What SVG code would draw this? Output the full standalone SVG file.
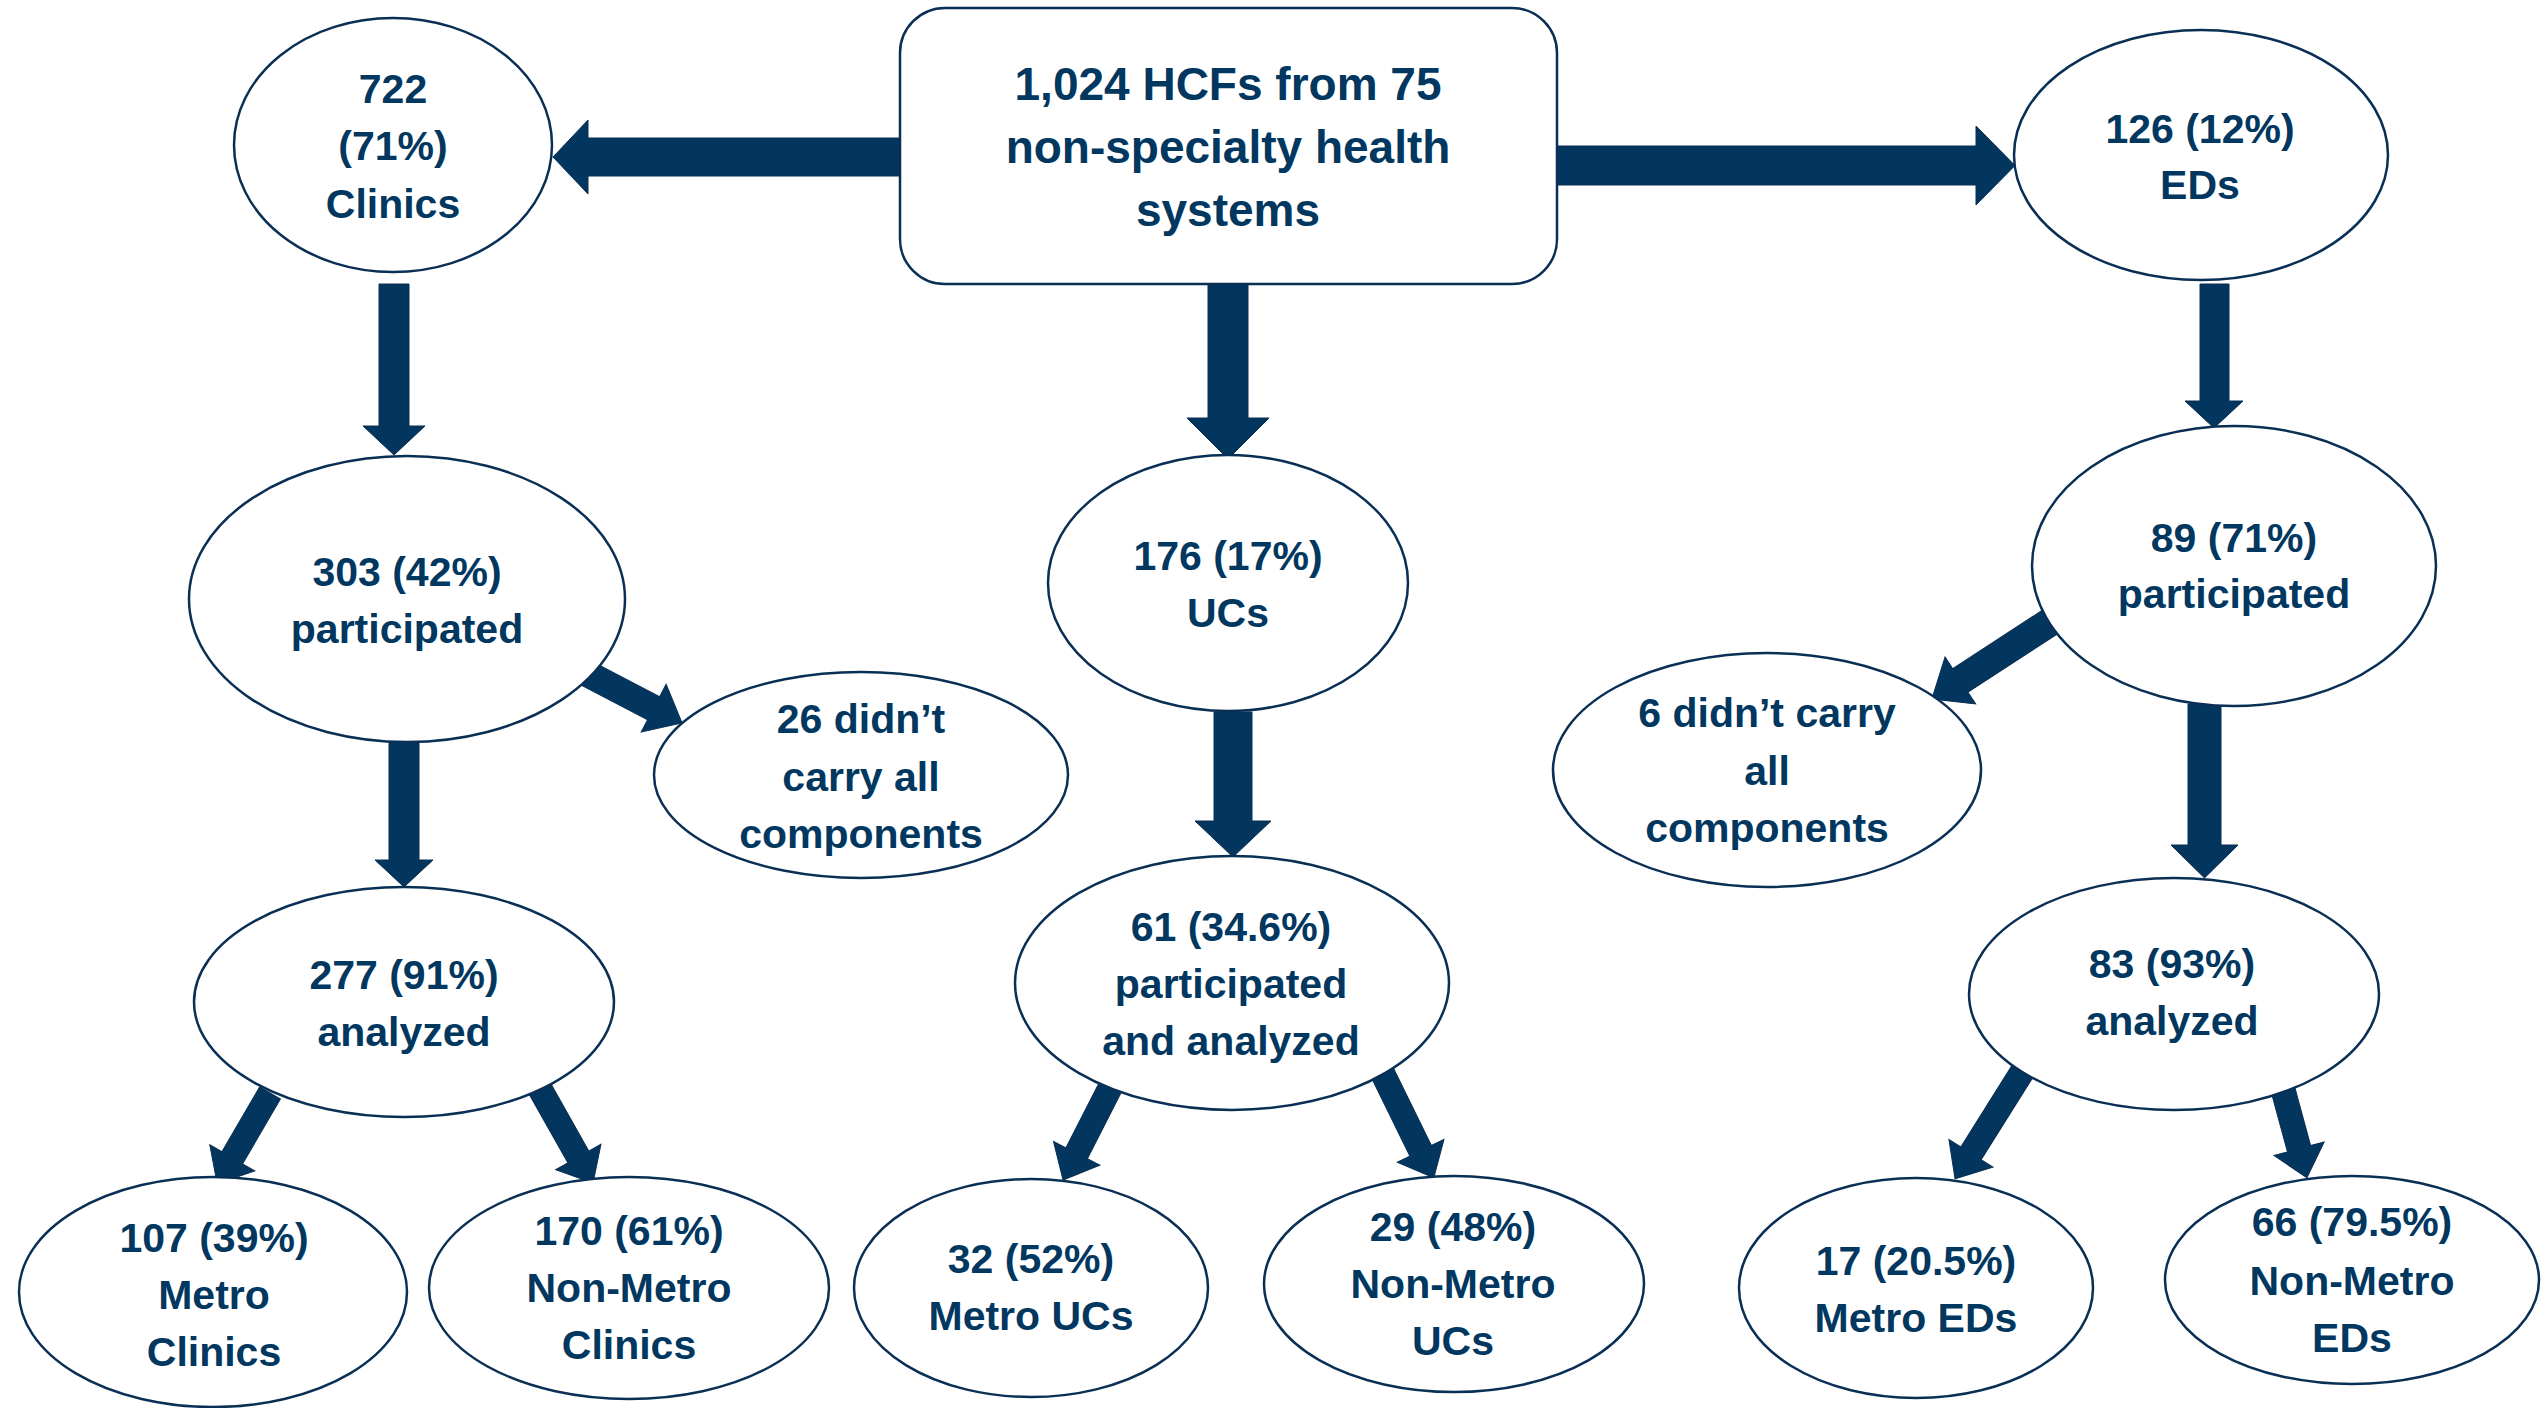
<svg xmlns="http://www.w3.org/2000/svg" width="2542" height="1408" viewBox="0 0 2542 1408">
<style>
.bg{fill:#ffffff}
.node{fill:#ffffff;stroke:#0a2f55;stroke-width:2.5}
.t{font-family:"Liberation Sans",Arial,sans-serif;font-weight:bold;font-size:41px;fill:#02375f;text-anchor:middle}
.tb{font-size:46px}
.arr{fill:#02365f;stroke:#0b2e50;stroke-width:1}
</style>
<rect class="bg" x="0" y="0" width="2542" height="1408"/>
<g id="connectors">
<polygon class="arr" points="900,138 588,138 588,120 553,157 588,194 588,176 900,176"/>
<polygon class="arr" points="1557,146 1976,146 1976,126 2015,165.5 1976,205 1976,185 1557,185"/>
<polygon class="arr" points="1208,283 1248,283 1248,418 1269,418 1228,459 1187,418 1208,418"/>
<polygon class="arr" points="379,284 409,284 409,426 425,426 394,455 363,426 379,426"/>
<polygon class="arr" points="2200,284 2229,284 2229,401 2243,401 2214,428 2185,401 2200,401"/>
<polygon class="arr" points="389,742 419,742 419,860 433,860 404,887 375,860 389,860"/>
<polygon class="arr" points="1214,712 1252,712 1252,821 1271,821 1233,857 1195,821 1214,821"/>
<polygon class="arr" points="2188,704 2221,704 2221,845 2238,845 2204.5,878 2171,845 2188,845"/>
<polygon class="arr" transform="translate(588,674) rotate(27.5)" points="0,-13 74,-13 74,-27 106,0 74,27 74,13 0,13"/>
<polygon class="arr" transform="translate(270,1093) rotate(120.2)" points="0,-12 75,-12 75,-26 105,0 75,26 75,12 0,12"/>
<polygon class="arr" transform="translate(540,1089) rotate(60.6)" points="0,-12 78,-12 78,-26 108,0 78,26 78,12 0,12"/>
<polygon class="arr" transform="translate(1113,1082) rotate(117)" points="0,-12 80,-12 80,-26 110,0 80,26 80,12 0,12"/>
<polygon class="arr" transform="translate(1381,1070) rotate(63.9)" points="0,-12 90,-12 90,-26 120,0 90,26 90,12 0,12"/>
<polygon class="arr" transform="translate(2050,622) rotate(146.9)" points="0,-14 107,-14 107,-28 141,0 107,28 107,14 0,14"/>
<polygon class="arr" transform="translate(2022,1072) rotate(122.1)" points="0,-12 96,-12 96,-26 126,0 96,26 96,12 0,12"/>
<polygon class="arr" transform="translate(2282,1086) rotate(74.8)" points="0,-12 65,-12 65,-26 95,0 65,26 65,12 0,12"/>
</g>
<g id="root">
<rect class="node" x="900" y="8" width="657" height="276" rx="45" ry="45"/>
<text class="t tb" x="1228" y="100">1,024 HCFs from 75</text>
<text class="t tb" x="1228" y="163">non-specialty health</text>
<text class="t tb" x="1228" y="226">systems</text>
</g>
<g id="clinics">
<ellipse class="node" cx="393" cy="145" rx="159" ry="127"/>
<text class="t" x="393" y="103">722</text>
<text class="t" x="393" y="160">(71%)</text>
<text class="t" x="393" y="218">Clinics</text>
</g>
<g id="eds">
<ellipse class="node" cx="2201" cy="155" rx="187" ry="125"/>
<text class="t" x="2200" y="143">126 (12%)</text>
<text class="t" x="2200" y="199">EDs</text>
</g>
<g id="clinics-participated">
<ellipse class="node" cx="407" cy="599" rx="218" ry="143"/>
<text class="t" x="407" y="586">303 (42%)</text>
<text class="t" x="407" y="643">participated</text>
</g>
<g id="clinics-excluded">
<ellipse class="node" cx="861" cy="775" rx="207" ry="103"/>
<text class="t" x="861" y="733">26 didn’t</text>
<text class="t" x="861" y="791">carry all</text>
<text class="t" x="861" y="848">components</text>
</g>
<g id="ucs">
<ellipse class="node" cx="1228" cy="583" rx="180" ry="128"/>
<text class="t" x="1228" y="570">176 (17%)</text>
<text class="t" x="1228" y="627">UCs</text>
</g>
<g id="eds-participated">
<ellipse class="node" cx="2234" cy="566" rx="202" ry="140"/>
<text class="t" x="2234" y="552">89 (71%)</text>
<text class="t" x="2234" y="608">participated</text>
</g>
<g id="eds-excluded">
<ellipse class="node" cx="1767" cy="770" rx="214" ry="117"/>
<text class="t" x="1767" y="727">6 didn’t carry</text>
<text class="t" x="1767" y="785">all</text>
<text class="t" x="1767" y="842">components</text>
</g>
<g id="clinics-analyzed">
<ellipse class="node" cx="404" cy="1002" rx="210" ry="115"/>
<text class="t" x="404" y="989">277 (91%)</text>
<text class="t" x="404" y="1046">analyzed</text>
</g>
<g id="ucs-analyzed">
<ellipse class="node" cx="1232" cy="983" rx="217" ry="127"/>
<text class="t" x="1231" y="941">61 (34.6%)</text>
<text class="t" x="1231" y="998">participated</text>
<text class="t" x="1231" y="1055">and analyzed</text>
</g>
<g id="eds-analyzed">
<ellipse class="node" cx="2174" cy="994" rx="205" ry="116"/>
<text class="t" x="2172" y="978">83 (93%)</text>
<text class="t" x="2172" y="1035">analyzed</text>
</g>
<g id="metro-clinics">
<ellipse class="node" cx="213" cy="1292" rx="194" ry="115"/>
<text class="t" x="214" y="1252">107 (39%)</text>
<text class="t" x="214" y="1309">Metro</text>
<text class="t" x="214" y="1366">Clinics</text>
</g>
<g id="nonmetro-clinics">
<ellipse class="node" cx="629" cy="1288" rx="200" ry="111"/>
<text class="t" x="629" y="1245">170 (61%)</text>
<text class="t" x="629" y="1302">Non-Metro</text>
<text class="t" x="629" y="1359">Clinics</text>
</g>
<g id="metro-ucs">
<ellipse class="node" cx="1031" cy="1288" rx="177" ry="109"/>
<text class="t" x="1031" y="1273">32 (52%)</text>
<text class="t" x="1031" y="1330">Metro UCs</text>
</g>
<g id="nonmetro-ucs">
<ellipse class="node" cx="1454" cy="1284" rx="190" ry="108"/>
<text class="t" x="1453" y="1241">29 (48%)</text>
<text class="t" x="1453" y="1298">Non-Metro</text>
<text class="t" x="1453" y="1355">UCs</text>
</g>
<g id="metro-eds">
<ellipse class="node" cx="1916" cy="1288" rx="177" ry="110"/>
<text class="t" x="1916" y="1275">17 (20.5%)</text>
<text class="t" x="1916" y="1332">Metro EDs</text>
</g>
<g id="nonmetro-eds">
<ellipse class="node" cx="2352" cy="1280" rx="187" ry="104"/>
<text class="t" x="2352" y="1236">66 (79.5%)</text>
<text class="t" x="2352" y="1295">Non-Metro</text>
<text class="t" x="2352" y="1352">EDs</text>
</g>
</svg>
